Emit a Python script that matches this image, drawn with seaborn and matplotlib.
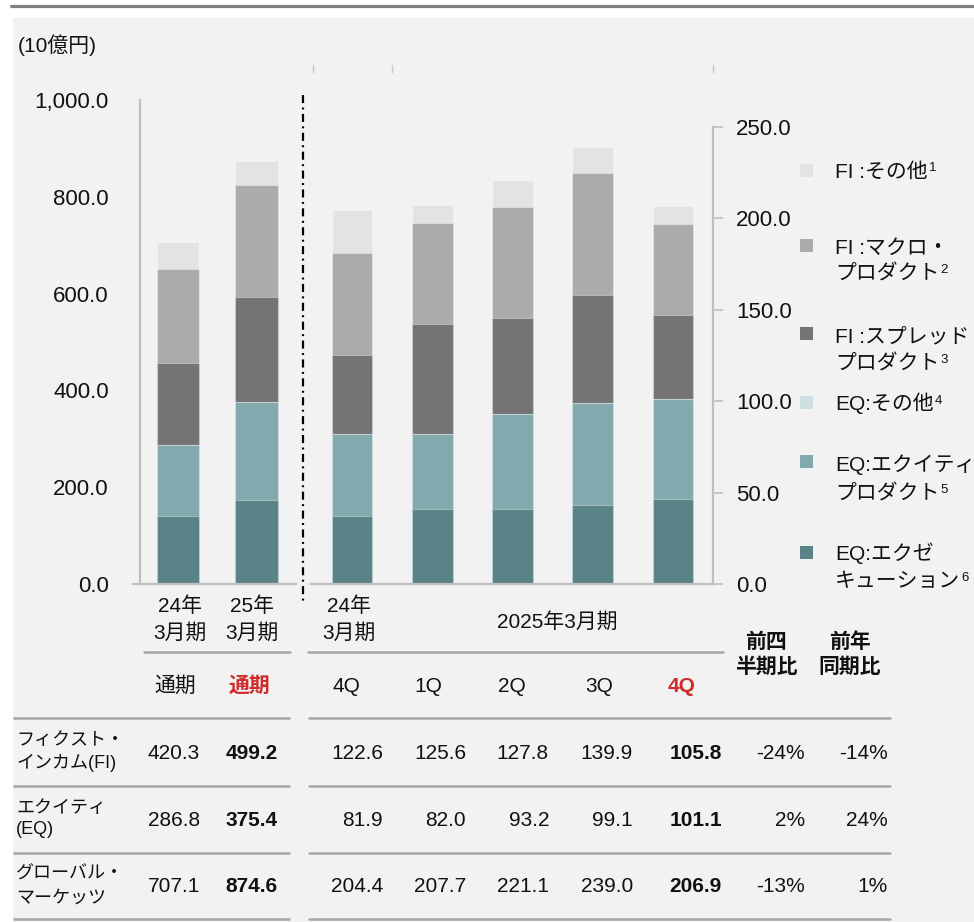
import numpy as np
import matplotlib
matplotlib.use("Agg")
import matplotlib.pyplot as plt
import seaborn as sns
from matplotlib.patches import Rectangle
from matplotlib.lines import Line2D
from matplotlib.ticker import FuncFormatter

# ---------------- data ----------------
annual_keys = ["FY24", "FY25"]
annual_top = ["24年", "25年"]
annual_bottom = ["3月期", "3月期"]
fi_other_a = [55.3, 49.6]
fi_macro_a = [195.0, 231.4]
fi_spread_a = [170.0, 218.2]
eq_other_a = [0.0, 0.0]
eq_equity_a = [146.9, 202.5]
eq_exec_a = [139.9, 172.9]

quarter_keys = ["FY24 4Q", "FY25 1Q", "FY25 2Q", "FY25 3Q", "FY25 4Q"]
quarter_labels = ["4Q", "1Q", "2Q", "3Q", "4Q"]
fi_other_q = [23.3, 9.9, 14.8, 14.2, 10.1]
fi_macro_q = [55.8, 55.3, 60.7, 66.7, 49.5]
fi_spread_q = [43.5, 60.4, 52.3, 59.0, 46.2]
eq_other_q = [0.0, 0.0, 0.0, 0.0, 0.0]
eq_equity_q = [44.5, 40.8, 52.0, 55.7, 54.8]
eq_exec_q = [37.4, 41.2, 41.2, 43.4, 46.3]

seg_colors = ["#5a8388", "#82a9ad", "#cfe0e3", "#747474", "#ababab", "#e3e3e3"]

legend_entries = [
    (["FI :その他"], "1", "#e3e3e3"),
    (["FI :マクロ・", "プロダクト"], "2", "#ababab"),
    (["FI :スプレッド", "プロダクト"], "3", "#747474"),
    (["EQ:その他"], "4", "#cfe0e3"),
    (["EQ:エクイティ", "プロダクト"], "5", "#82a9ad"),
    (["EQ:エクゼ", "キューション"], "6", "#5a8388"),
]

row_labels = [["フィクスト・", "インカム(FI)"], ["エクイティ", "(EQ)"], ["グローバル・", "マーケッツ"]]
annual_totals = [[420.3, 499.2], [286.8, 375.4], [707.1, 874.6]]
quarter_totals = [[122.6, 125.6, 127.8, 139.9, 105.8],
                  [81.9, 82.0, 93.2, 99.1, 101.1],
                  [204.4, 207.7, 221.1, 239.0, 206.9]]
qoq = ["-24%", "2%", "-13%"]
yoy = ["-14%", "24%", "1%"]

# ---------------- style ----------------
sns.set_theme(style="white")
plt.rcParams["font.family"] = ["Liberation Sans", "Noto Sans CJK JP"]
plt.rcParams["lines.scale_dashes"] = False

W, H = 974, 922
BG = "#f2f2f2"
TXT = "#111111"
RED = "#d02b2b"
GRID = "#bfbfbf"
RULE = "#a6a6a6"

fig = plt.figure(figsize=(W / 100, H / 100), dpi=100)
fig.patch.set_facecolor("white")


def fx(x):
    return x / W


def fy(y):
    return 1 - y / H


fig.patches.append(Rectangle((fx(13), 0), 1 - fx(13), fy(18), transform=fig.transFigure,
                             facecolor=BG, edgecolor="none", zorder=-10))
fig.lines.append(Line2D([fx(11), 1], [fy(6.5), fy(6.5)], transform=fig.transFigure,
                        color="#808080", lw=2.3))

ax1 = fig.add_axes([fx(140), fy(584), (296 - 140) / W, (584 - 100) / H])
ax2 = fig.add_axes([fx(311), fy(584), (713 - 311) / W, (584 - 127) / H])


def draw_stack(ax, keys, layers, width):
    cum = np.zeros(len(keys))
    cums = []
    for vals in layers:
        cum = cum + np.asarray(vals, dtype=float)
        cums.append(cum.copy())
    for c, color in reversed(list(zip(cums, seg_colors))):
        sns.barplot(x=keys, y=c, order=keys, color=color, width=width, saturation=1,
                    errorbar=None, edgecolor=(1, 1, 1, 0.35), linewidth=0.8, ax=ax)


draw_stack(ax1, annual_keys,
           [eq_exec_a, eq_equity_a, eq_other_a, fi_spread_a, fi_macro_a, fi_other_a], 0.544)
draw_stack(ax2, quarter_keys,
           [eq_exec_q, eq_equity_q, eq_other_q, fi_spread_q, fi_macro_q, fi_other_q], 0.51)

fmt = FuncFormatter(lambda v, p: f"{v:,.1f}")
for ax in (ax1, ax2):
    ax.patch.set_visible(False)
    ax.set_xlabel("")
    ax.set_ylabel("")
    ax.tick_params(axis="x", length=0, labelbottom=False)
    ax.yaxis.set_major_formatter(fmt)
    for s in ax.spines.values():
        s.set_color(GRID)
        s.set_linewidth(1.6)
    ax.spines["top"].set_visible(False)

ax1.set_xlim(-0.481, 1.494)
ax1.set_ylim(0, 1000)
ax1.set_yticks(np.arange(0, 1001, 200))
ax1.spines["right"].set_visible(False)
ax1.spines["bottom"].set_bounds(-0.57, 1.494)
ax1.tick_params(axis="y", direction="out", length=7, width=1.2, color=GRID, pad=15.5,
                labelsize=16, labelcolor=TXT)

ax2.set_xlim(-0.511, 4.498)
ax2.set_ylim(0, 250)
ax2.set_yticks(np.arange(0, 251, 50))
ax2.yaxis.tick_right()
ax2.spines["left"].set_visible(False)
ax2.tick_params(axis="y", direction="out", length=7, width=1.2, color=GRID, pad=9.5,
                labelsize=16, labelcolor=TXT)

# divider and small marks
fig.lines.append(Line2D([fx(303), fx(303)], [fy(95), fy(605)], transform=fig.transFigure,
                        color="black", lw=1.6, dashes=(5.8, 3.2, 1.4, 3.2)))
for mx in (313, 392, 713):
    fig.lines.append(Line2D([fx(mx), fx(mx)], [fy(65), fy(72)], transform=fig.transFigure,
                            color="#c8c8c8", lw=1.0))

FS = 15
fig.text(fx(18), fy(45), "(10億円)", fontsize=FS, color=TXT, ha="left", va="center")

# period labels
for xc, t, b in zip([180, 252], annual_top, annual_bottom):
    fig.text(fx(xc), fy(606), t, fontsize=FS, color=TXT, ha="center", va="center")
    fig.text(fx(xc), fy(633), b, fontsize=FS, color=TXT, ha="center", va="center")
fig.text(fx(349), fy(606), "24年", fontsize=FS, color=TXT, ha="center", va="center")
fig.text(fx(349), fy(633), "3月期", fontsize=FS, color=TXT, ha="center", va="center")
fig.text(fx(557), fy(622), "2025年3月期", fontsize=FS, color=TXT, ha="center", va="center")

fig.lines.append(Line2D([fx(144), fx(290)], [fy(652), fy(652)], transform=fig.transFigure,
                        color=RULE, lw=1.8))
fig.lines.append(Line2D([fx(308), fx(723)], [fy(652), fy(652)], transform=fig.transFigure,
                        color=RULE, lw=1.8))

for xc, lines in [(766, ["前四", "半期比"]), (850, ["前年", "同期比"])]:
    fig.text(fx(xc), fy(642), lines[0], fontsize=FS, color=TXT, ha="center", va="center",
             fontweight="bold")
    fig.text(fx(xc), fy(667), lines[1], fontsize=FS, color=TXT, ha="center", va="center",
             fontweight="bold")

# header row
fig.text(fx(175), fy(686), "通期", fontsize=FS, color=TXT, ha="center", va="center")
fig.text(fx(249), fy(686), "通期", fontsize=FS, color=RED, ha="center", va="center",
         fontweight="bold")
for i, (xc, q) in enumerate(zip([346, 428, 512, 599, 682], quarter_labels)):
    last = i == len(quarter_labels) - 1
    fig.text(fx(xc), fy(686), q, fontsize=FS, color=RED if last else TXT, ha="center",
             va="center", fontweight="bold" if last else "normal")

# table rules
for yr in (718, 786, 853, 919):
    fig.lines.append(Line2D([fx(14), fx(289)], [fy(yr), fy(yr)], transform=fig.transFigure,
                            color=RULE, lw=1.8))
    fig.lines.append(Line2D([fx(309), fx(890)], [fy(yr), fy(yr)], transform=fig.transFigure,
                            color=RULE, lw=1.8))

# table rows
col_right = [200, 278, 383, 466, 549, 633, 722, 805, 888]
row_y = [753, 820, 886]
label_y = [(740, 763), (808, 829), (874, 898)]
for r in range(3):
    for ln, yy in zip(row_labels[r], label_y[r]):
        fig.text(fx(16), fy(yy), ln, fontsize=13, color=TXT, ha="left", va="center")
    vals = [f"{v:.1f}" for v in annual_totals[r]] + [f"{v:.1f}" for v in quarter_totals[r]] \
        + [qoq[r], yoy[r]]
    for c, (xr, s) in enumerate(zip(col_right, vals)):
        bold = c in (1, 6)
        fig.text(fx(xr), fy(row_y[r]), s, fontsize=FS, color=TXT, ha="right", va="center",
                 fontweight="bold" if bold else "normal")

# legend
sq_y = [170, 245, 334, 403, 462, 552]
line_ys = [[170], [246, 272], [335, 362], [403], [463, 492], [553, 580]]
last_texts = []
for (lines, sup, color), sy, lys in zip(legend_entries, sq_y, line_ys):
    fig.patches.append(Rectangle((fx(800), fy(sy + 6.5)), 13 / W, 13 / H,
                                 transform=fig.transFigure, facecolor=color, edgecolor="none"))
    t = None
    for ln, yy in zip(lines, lys):
        t = fig.text(fx(835), fy(yy + 7.5), ln, fontsize=FS, color=TXT, ha="left",
                     va="baseline")
    last_texts.append((t, sup, lys[-1]))

fig.canvas.draw()
renderer = fig.canvas.get_renderer()
for t, sup, yy in last_texts:
    bb = t.get_window_extent(renderer)
    fig.text((bb.x1 + 1) / W, fy(yy + 1.0), sup, fontsize=9.5, color=TXT, ha="left",
             va="baseline")

fig.savefig("out.png", dpi=100, facecolor=fig.get_facecolor())
